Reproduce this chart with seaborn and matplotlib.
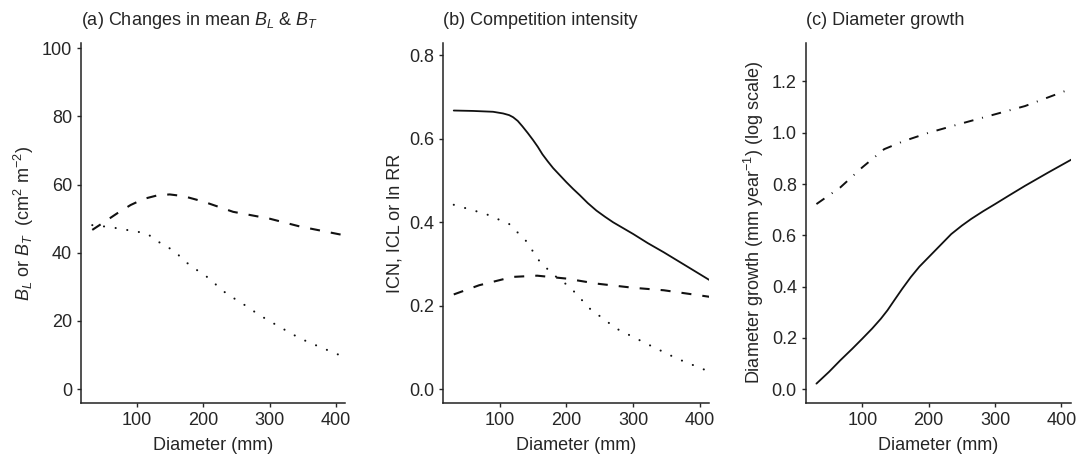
"""Three-panel figure: basal area, competition intensity and diameter growth vs diameter."""

import matplotlib

matplotlib.use("Agg")
import matplotlib.pyplot as plt
import pandas as pd
import seaborn as sns

# (a) mean B_L (dashed) and B_T (dotted)
a_dash_x = [32, 50, 70, 90, 110, 130, 149, 170, 200, 245, 300, 346, 411]
a_dash_y = [46.7, 49.0, 51.6, 54.0, 55.8, 56.8, 57.1, 56.6, 55.0, 52.0, 50.0, 47.7, 45.2]
a_dot_x = [32, 60, 84, 114, 139, 154, 179, 205, 235, 260, 285, 315, 346, 376, 406, 411]
a_dot_y = [48.1, 47.5, 46.7, 45.7, 42.3, 40.8, 36.4, 33.0, 28.0, 25.0, 21.7, 18.3, 14.9, 12.4, 10.0, 9.6]

# (b) competition indices
b_solid_x = [31, 60, 90, 105, 114, 120, 127, 134, 142, 150, 157, 164, 172, 180, 190, 200,
             210, 220, 232, 245, 258, 270, 285, 300, 322, 346, 380, 416]
b_solid_y = [0.668, 0.667, 0.665, 0.661, 0.657, 0.652, 0.643, 0.630, 0.614, 0.597, 0.581,
             0.563, 0.546, 0.530, 0.513, 0.496, 0.480, 0.465, 0.446, 0.428, 0.413, 0.400,
             0.386, 0.372, 0.350, 0.328, 0.295, 0.260]
b_dash_x = [31, 69, 119, 156, 200, 245, 300, 346, 416]
b_dash_y = [0.227, 0.249, 0.269, 0.272, 0.265, 0.253, 0.243, 0.237, 0.221]
b_dot_x = [31, 79, 114, 139, 159, 179, 205, 235, 275, 320, 366, 411]
b_dot_y = [0.442, 0.420, 0.396, 0.356, 0.308, 0.276, 0.245, 0.193, 0.145, 0.109, 0.073, 0.044]

# (c) diameter growth (log scale)
c_solid_x = [31, 50, 67, 85, 100, 115, 128, 138, 148, 160, 173, 186, 200, 217, 234, 250,
             264, 282, 300, 322, 345, 380, 416]
c_solid_y = [0.022, 0.068, 0.113, 0.158, 0.197, 0.237, 0.275, 0.308, 0.346, 0.391, 0.437,
             0.478, 0.515, 0.560, 0.605, 0.638, 0.664, 0.694, 0.722, 0.757, 0.793, 0.845,
             0.897]
c_dashdot_x = [31, 67, 100, 133, 163, 200, 245, 300, 345, 416]
c_dashdot_y = [0.722, 0.787, 0.865, 0.936, 0.968, 1.000, 1.033, 1.072, 1.104, 1.173]

X_TICKS = [100, 200, 300, 400]

sns.set_theme(style="ticks")
plt.rcParams["font.family"] = ["Liberation Sans", "DejaVu Sans"]
plt.rcParams["mathtext.fontset"] = "custom"
plt.rcParams["mathtext.rm"] = "Liberation Sans"
plt.rcParams["mathtext.it"] = "Liberation Sans:italic"
plt.rcParams["axes.edgecolor"] = "#222222"
plt.rcParams["axes.linewidth"] = 1.1
plt.rcParams["xtick.major.size"] = 3
plt.rcParams["ytick.major.size"] = 3

FS = 13
# (linestyle, linewidth, capstyle)
SOLID = ("-", 1.3, "butt")
DASHED = ((0, (4.8, 5.3)), 1.5, "butt")
DOTTED = ((0, (0.05, 5.6)), 1.5, "round")
DASHDOT = ((0, (5.0, 4.6, 0.5, 4.6)), 1.4, "butt")

fig = plt.figure(figsize=(10.86, 4.62), dpi=100)
ax_a = fig.add_axes([0.0746, 0.128, 0.243, 0.779])
ax_b = fig.add_axes([0.408, 0.128, 0.245, 0.779])
ax_c = fig.add_axes([0.742, 0.128, 0.244, 0.779])


def draw(ax, xs, ys, style):
    ls, lw, cap = style
    df = pd.DataFrame({"x": xs, "y": ys})
    sns.lineplot(data=df, x="x", y="y", ax=ax, color="#111111", lw=lw,
                 linestyle=ls, dash_capstyle=cap, sort=False)


draw(ax_a, a_dash_x, a_dash_y, DASHED)
draw(ax_a, a_dot_x, a_dot_y, DOTTED)

draw(ax_b, b_solid_x, b_solid_y, SOLID)
draw(ax_b, b_dash_x, b_dash_y, DASHED)
draw(ax_b, b_dot_x, b_dot_y, DOTTED)

draw(ax_c, c_solid_x, c_solid_y, SOLID)
draw(ax_c, c_dashdot_x, c_dashdot_y, DASHDOT)

ax_a.set_ylim(-4, 101.5)
ax_a.set_yticks([0, 20, 40, 60, 80, 100])
ax_a.set_ylabel(r"$B_L$ or $B_T$  (cm$^2$ m$^{-2}$)", fontsize=FS)

ax_b.set_ylim(-0.033, 0.83)
ax_b.set_yticks([0.0, 0.2, 0.4, 0.6, 0.8])
ax_b.set_yticklabels(["0.0", "0.2", "0.4", "0.6", "0.8"])
ax_b.set_ylabel("ICN, ICL or ln RR", fontsize=FS)

ax_c.set_ylim(-0.053, 1.35)
ax_c.set_yticks([0.0, 0.2, 0.4, 0.6, 0.8, 1.0, 1.2])
ax_c.set_yticklabels(["0.0", "0.2", "0.4", "0.6", "0.8", "1.0", "1.2"])
ax_c.set_ylabel(r"Diameter growth (mm year$^{-1}$) (log scale)", fontsize=FS)

titles = [r"(a) Changes in mean $B_L$ & $B_T$", "(b) Competition intensity",
          "(c) Diameter growth"]
for ax, title in zip([ax_a, ax_b, ax_c], titles):
    ax.set_xlim(15, 414)
    ax.set_xticks(X_TICKS)
    ax.set_xlabel("Diameter (mm)", fontsize=FS, labelpad=6)
    ax.tick_params(labelsize=FS, width=1.0)
    ax.set_title(title, loc="left", fontsize=FS, pad=13)
    sns.despine(ax=ax)

fig.savefig("out.png", dpi=100)
